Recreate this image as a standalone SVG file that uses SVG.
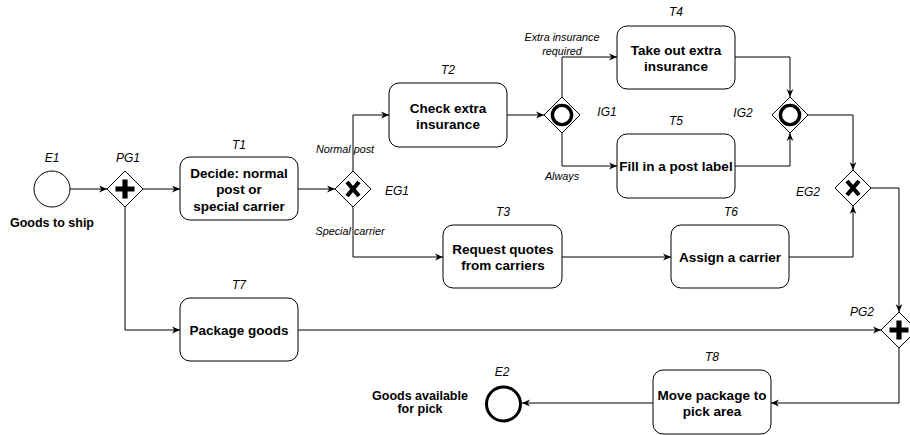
<svg xmlns="http://www.w3.org/2000/svg" width="910" height="435" viewBox="0 0 910 435">
<style>
  text { font-family: "Liberation Sans", Arial, sans-serif; fill: #000; text-anchor: middle; }
  .task { fill: #fff; stroke: #000; stroke-width: 1; }
  .tt { font-size: 13.5px; font-weight: bold; }
  .id { font-size: 12px; font-style: italic; }
  .el { font-size: 10.8px; font-style: italic; }
  .ev { font-size: 12.5px; font-weight: bold; }
  .gw { fill: #fff; stroke: #000; stroke-width: 1; }
  .edge { fill: none; stroke: #000; stroke-width: 1; marker-end: url(#arr); }
</style>
<defs>
  <marker id="arr" markerUnits="userSpaceOnUse" viewBox="0 0 8 8" refX="8" refY="4" markerWidth="8" markerHeight="8" orient="auto">
    <path d="M0,0.6 L8,4 L0,7.4 L2.4,4 Z" fill="#000"/>
  </marker>
  <polygon id="dia" points="0,-18 18,0 0,18 -18,0" class="gw"/>
  <path id="plus" d="M-2.6,-9.5 H2.6 V-2.6 H9.5 V2.6 H2.6 V9.5 H-2.6 V2.6 H-9.5 V-2.6 H-2.6 Z" fill="#000"/>
  <path id="xm" d="M-6,-7 L6,7 M6,-7 L-6,7" stroke="#000" stroke-width="4.2" fill="none"/>
  <circle id="om" r="9.6" fill="none" stroke="#000" stroke-width="3.4"/>
</defs>
<rect width="910" height="435" fill="#fff"/>

<g id="connectors">
  <path class="edge" d="M70,189 H107"/>
  <path class="edge" d="M143,189 H180"/>
  <path class="edge" d="M125,207 V330 H180"/>
  <path class="edge" d="M298,189 H335"/>
  <path class="edge" d="M353,171 V115 H389"/>
  <path class="edge" d="M353,207 V257 H443"/>
  <path class="edge" d="M507,115 H544"/>
  <path class="edge" d="M562,97 V57 H617"/>
  <path class="edge" d="M562,133 V166 H617"/>
  <path class="edge" d="M735,57 H790 V97"/>
  <path class="edge" d="M735,166 H790 V133"/>
  <path class="edge" d="M808,115 H853 V170"/>
  <path class="edge" d="M562,257 H671"/>
  <path class="edge" d="M789,257 H853 V206"/>
  <path class="edge" d="M871,188 H899 V312"/>
  <path class="edge" d="M298,330 H881"/>
  <path class="edge" d="M899,348 V403 H771"/>
  <path class="edge" d="M653,403 H522"/>
  <text class="el" x="345" y="153">Normal post</text>
  <text class="el" x="350" y="235">Special carrier</text>
  <text class="el" x="562" y="41">Extra insurance</text>
  <text class="el" x="562" y="55">required</text>
  <text class="el" x="562" y="180">Always</text>
</g>

<g id="E1">
  <circle cx="52" cy="189" r="18" fill="#fff" stroke="#000" stroke-width="1"/>
  <text class="id" x="52" y="162">E1</text>
  <text class="ev" x="52" y="226.5">Goods to ship</text>
</g>

<g id="PG1">
  <use href="#dia" x="125" y="189"/>
  <use href="#plus" x="125" y="189"/>
  <text class="id" x="128" y="162">PG1</text>
</g>

<g id="T1">
  <rect class="task" x="180" y="157" width="118" height="63" rx="10"/>
  <text class="id" x="239" y="149">T1</text>
  <text class="tt" x="239" y="177.5">Decide: normal</text>
  <text class="tt" x="239" y="194">post or</text>
  <text class="tt" x="239" y="210.5">special carrier</text>
</g>

<g id="EG1">
  <use href="#dia" x="353" y="189"/>
  <use href="#xm" x="353" y="189"/>
  <text class="id" x="397" y="195">EG1</text>
</g>

<g id="T2">
  <rect class="task" x="389" y="83" width="118" height="64" rx="10"/>
  <text class="id" x="448" y="74">T2</text>
  <text class="tt" x="448" y="112.5">Check extra</text>
  <text class="tt" x="448" y="128.5">insurance</text>
</g>

<g id="IG1">
  <use href="#dia" x="562" y="115"/>
  <use href="#om" x="562" y="115"/>
  <text class="id" x="607" y="116">IG1</text>
</g>

<g id="T3">
  <rect class="task" x="443" y="225" width="119" height="63" rx="10"/>
  <text class="id" x="503" y="216">T3</text>
  <text class="tt" x="503" y="253.5">Request quotes</text>
  <text class="tt" x="503" y="270">from carriers</text>
</g>

<g id="T4">
  <rect class="task" x="617" y="26" width="118" height="63" rx="10"/>
  <text class="id" x="676" y="16">T4</text>
  <text class="tt" x="676" y="54.5">Take out extra</text>
  <text class="tt" x="676" y="71">insurance</text>
</g>

<g id="T5">
  <rect class="task" x="617" y="134" width="118" height="64" rx="10"/>
  <text class="id" x="676" y="125">T5</text>
  <text class="tt" x="676" y="171">Fill in a post label</text>
</g>

<g id="IG2">
  <use href="#dia" x="790" y="115"/>
  <use href="#om" x="790" y="115"/>
  <text class="id" x="743" y="117">IG2</text>
</g>

<g id="EG2">
  <use href="#dia" x="853" y="188"/>
  <use href="#xm" x="853" y="188"/>
  <text class="id" x="808" y="196">EG2</text>
</g>

<g id="T6">
  <rect class="task" x="671" y="225" width="118" height="63" rx="10"/>
  <text class="id" x="731" y="216">T6</text>
  <text class="tt" x="730" y="261.5">Assign a carrier</text>
</g>

<g id="T7">
  <rect class="task" x="180" y="298" width="118" height="63" rx="10"/>
  <text class="id" x="239" y="289">T7</text>
  <text class="tt" x="239" y="334.5">Package goods</text>
</g>

<g id="PG2">
  <use href="#dia" x="899" y="330"/>
  <use href="#plus" x="899" y="330"/>
  <text class="id" x="862" y="316">PG2</text>
</g>

<g id="T8">
  <rect class="task" x="653" y="370" width="118" height="64" rx="10"/>
  <text class="id" x="712" y="361">T8</text>
  <text class="tt" x="712" y="399.5">Move package to</text>
  <text class="tt" x="712" y="416">pick area</text>
</g>

<g id="E2">
  <circle cx="503.5" cy="404" r="17" fill="#fff" stroke="#000" stroke-width="3"/>
  <text class="id" x="502" y="376">E2</text>
  <text class="ev" x="420" y="399.5">Goods available</text>
  <text class="ev" x="420" y="413">for pick</text>
</g>
</svg>
